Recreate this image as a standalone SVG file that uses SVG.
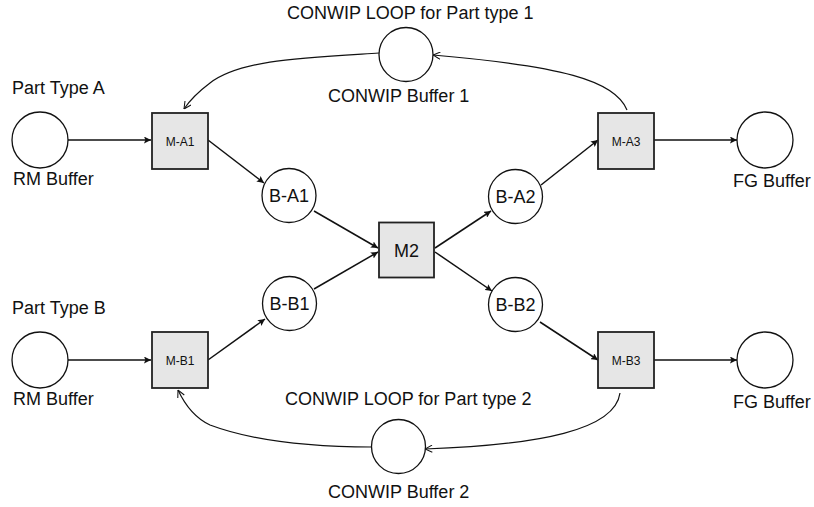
<svg xmlns="http://www.w3.org/2000/svg" width="814" height="507" viewBox="0 0 814 507">
  <style>
    text { font-family: "Liberation Sans", Arial, sans-serif; fill: #111; }
    .lbl { font-size: 18px; }
    .mlbl { font-size: 12px; text-anchor: middle; }
    .nlbl { font-size: 18px; text-anchor: middle; }
    .buf { fill: #fff; stroke: #111; stroke-width: 1.3; }
    .mach { fill: #e6e6e6; stroke: #222; stroke-width: 1.8; }
    .flow { fill: none; stroke: #111; stroke-width: 1.5; marker-end: url(#solid); }
    .loop { fill: none; stroke: #111; stroke-width: 1.2; marker-end: url(#open); }
  </style>
  <defs>
    <marker id="solid" viewBox="0 0 10 10" refX="10" refY="5" markerWidth="7" markerHeight="7" markerUnits="userSpaceOnUse" orient="auto">
      <path d="M0,0 L10,5 L0,10 L2,5 Z" fill="#111"/>
    </marker>
    <marker id="open" viewBox="0 0 10 10" refX="10" refY="5" markerWidth="8" markerHeight="8" markerUnits="userSpaceOnUse" orient="auto">
      <path d="M1,0.5 L10,5 L1,9.5" fill="none" stroke="#111" stroke-width="1.3"/>
    </marker>
  </defs>

  <!-- free labels -->
  <text class="lbl" x="287" y="19">CONWIP LOOP for Part type 1</text>
  <text class="lbl" x="328" y="102">CONWIP Buffer 1</text>
  <text class="lbl" x="12" y="94">Part Type A</text>
  <text class="lbl" x="13" y="185">RM Buffer</text>
  <text class="lbl" x="733" y="187">FG Buffer</text>
  <text class="lbl" x="12" y="314">Part Type B</text>
  <text class="lbl" x="13" y="405">RM Buffer</text>
  <text class="lbl" x="285" y="405">CONWIP LOOP for Part type 2</text>
  <text class="lbl" x="733" y="408">FG Buffer</text>
  <text class="lbl" x="328" y="498">CONWIP Buffer 2</text>

  <!-- connectors -->
  <g id="connectors">
    <line class="flow" x1="68" y1="140" x2="151" y2="140"/>
    <line class="flow" x1="208" y1="140" x2="264" y2="183"/>
    <line class="flow" x1="314" y1="211" x2="378" y2="248"/>
    <line class="flow" x1="435" y1="248" x2="491" y2="211"/>
    <line class="flow" x1="541" y1="185" x2="598" y2="140"/>
    <line class="flow" x1="654" y1="140" x2="737" y2="140"/>
    <line class="flow" x1="68" y1="360" x2="151" y2="360"/>
    <line class="flow" x1="208" y1="360" x2="265" y2="319"/>
    <line class="flow" x1="314" y1="289" x2="378" y2="252"/>
    <line class="flow" x1="435" y1="252" x2="492" y2="291"/>
    <line class="flow" x1="540" y1="322" x2="598" y2="360"/>
    <line class="flow" x1="654" y1="360" x2="737" y2="360"/>
    <!-- CONWIP loop 1 -->
    <path class="loop" d="M627,110 C615,80 560,66 433,55"/>
    <path class="loop" d="M379,53 C300,58 240,60 210,83 C198,92 190,100 184,109"/>
    <!-- CONWIP loop 2 -->
    <path class="loop" d="M620,393 C615,430 540,445 425,449"/>
    <path class="loop" d="M372,447 C300,447 250,440 210,425 C195,418 185,405 178,390"/>
  </g>

  <!-- nodes -->
  <g id="rm-buffer-a"><circle class="buf" cx="40" cy="140" r="28"/></g>
  <g id="m-a1"><rect class="mach" x="152" y="113" width="56" height="56"/><text class="mlbl" x="180" y="146">M-A1</text></g>
  <g id="b-a1"><circle class="buf" cx="289" cy="195.5" r="27"/><text class="nlbl" x="289" y="202">B-A1</text></g>
  <g id="conwip-buffer-1"><circle class="buf" cx="406" cy="54.5" r="27"/></g>
  <g id="m2"><rect class="mach" x="379" y="222.5" width="55" height="55"/><text class="nlbl" x="406.5" y="256.5">M2</text></g>
  <g id="b-a2"><circle class="buf" cx="515.5" cy="196.5" r="27"/><text class="nlbl" x="515.5" y="203">B-A2</text></g>
  <g id="m-a3"><rect class="mach" x="598" y="113" width="56" height="56"/><text class="mlbl" x="626" y="146">M-A3</text></g>
  <g id="fg-buffer-a"><circle class="buf" cx="765" cy="140" r="28"/></g>
  <g id="rm-buffer-b"><circle class="buf" cx="40" cy="360" r="28"/></g>
  <g id="m-b1"><rect class="mach" x="152" y="332" width="56" height="56"/><text class="mlbl" x="180" y="365">M-B1</text></g>
  <g id="b-b1"><circle class="buf" cx="289.5" cy="303.5" r="27"/><text class="nlbl" x="289.5" y="310">B-B1</text></g>
  <g id="b-b2"><circle class="buf" cx="515.5" cy="304.5" r="27"/><text class="nlbl" x="515.5" y="311">B-B2</text></g>
  <g id="m-b3"><rect class="mach" x="598" y="332" width="56" height="56"/><text class="mlbl" x="626" y="365">M-B3</text></g>
  <g id="fg-buffer-b"><circle class="buf" cx="765" cy="360" r="28"/></g>
  <g id="conwip-buffer-2"><circle class="buf" cx="398.5" cy="446.5" r="27"/></g>
</svg>
